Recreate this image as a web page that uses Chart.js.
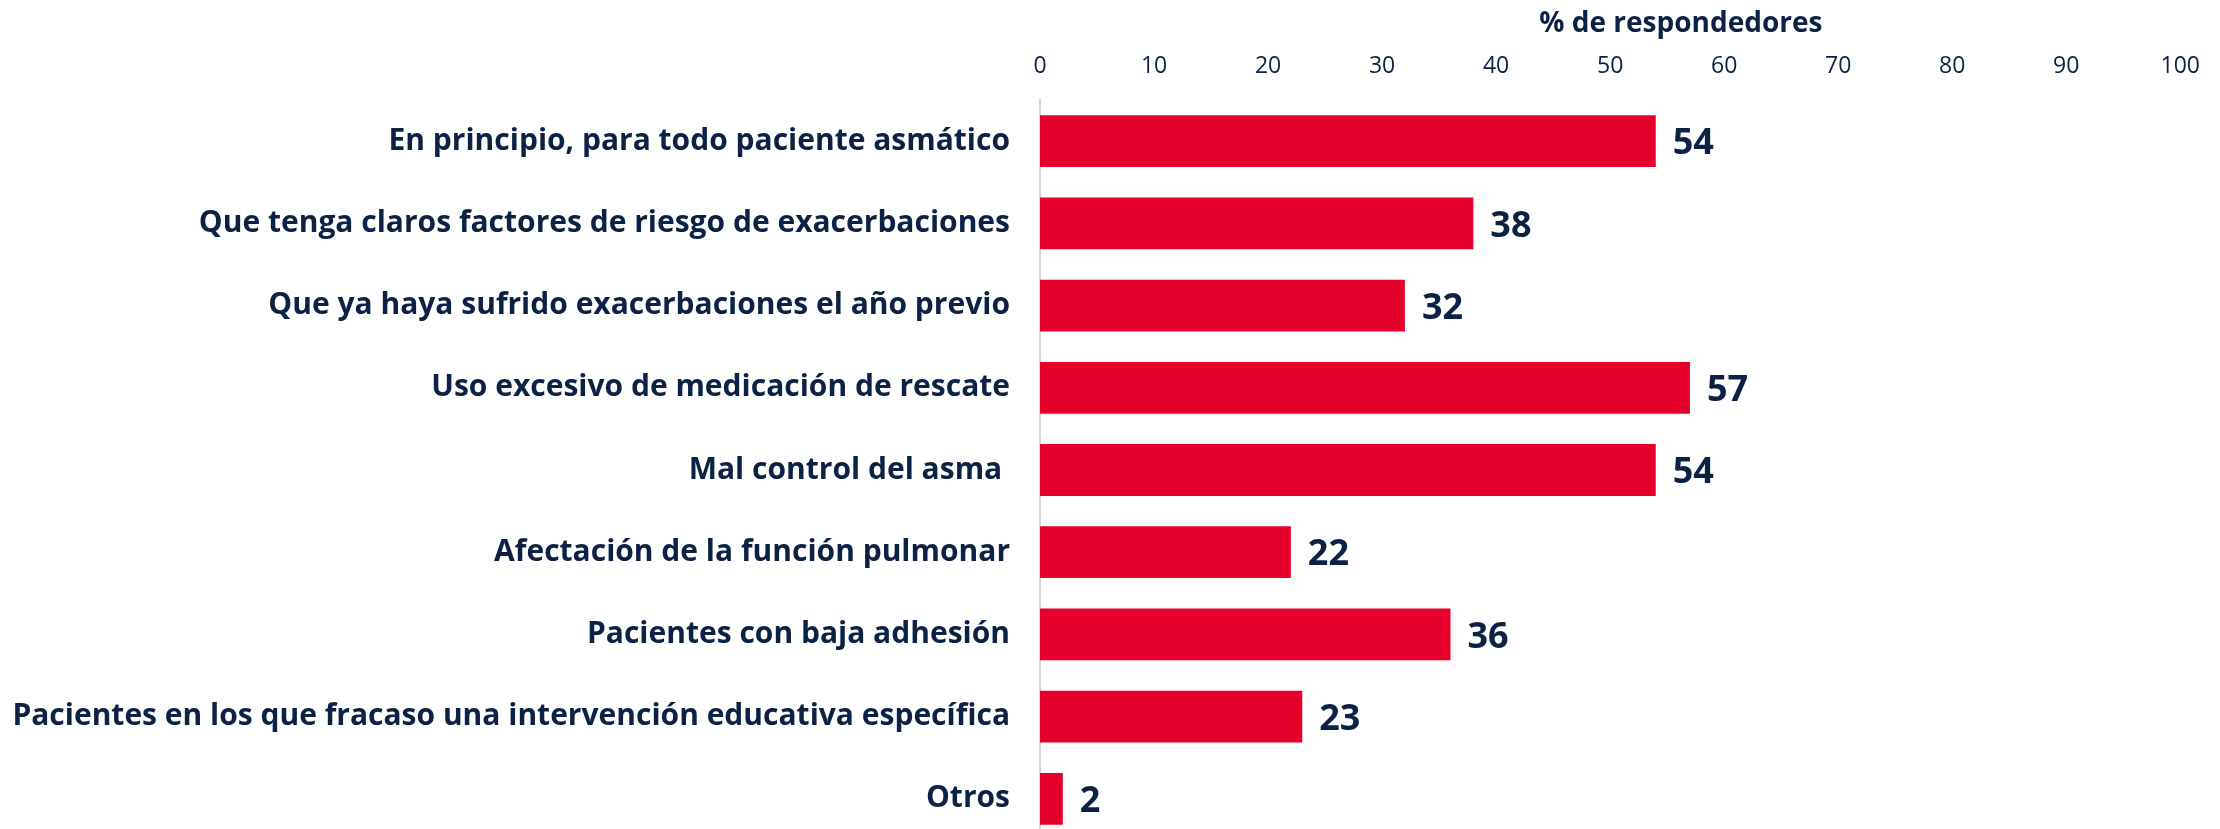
<!DOCTYPE html>
<html>
<head>
<meta charset="utf-8">
<script src="https://cdn.jsdelivr.net/npm/chart.js@4"></script>
<style>
  html, body { margin: 0; padding: 0; background: #fff; overflow: hidden; height: 829px; }
  canvas { display: block; }
</style>
</head>
<body>
<!-- el lienzo es algo más alto que la ventana: la última fila queda recortada como en el original -->
<canvas id="chart" width="2220" height="840"></canvas>
<script>
const categories = [
  'En principio, para todo paciente asmático',
  'Que tenga claros factores de riesgo de exacerbaciones',
  'Que ya haya sufrido exacerbaciones el año previo',
  'Uso excesivo de medicación de rescate',
  'Mal control del asma ',
  'Afectación de la función pulmonar',
  'Pacientes con baja adhesión',
  'Pacientes en los que fracaso una intervención educativa específica',
  'Otros'
];
const values = [54, 38, 32, 57, 54, 22, 36, 23, 2];
const axisTitle = '% de respondedores';
const xMin = 0, xMax = 100, xStep = 10;

const navy = '#0b2245';
const red = '#e4002b';
const fontFamily = '"Open Sans", Lato, sans-serif';

// etiquetas de valor a la derecha de cada barra
const valueLabels = {
  id: 'valueLabels',
  afterDatasetsDraw(chart) {
    const ctx = chart.ctx;
    const meta = chart.getDatasetMeta(0);
    ctx.save();
    ctx.fillStyle = navy;
    ctx.font = 'bold 36px ' + fontFamily;
    ctx.textAlign = 'left';
    ctx.textBaseline = 'middle';
    meta.data.forEach((bar, i) => {
      ctx.fillText(String(values[i]), bar.x + 17, bar.y + 3);
    });
    ctx.restore();
  }
};

// título del eje, un poco a la derecha del centro
const axisTitlePlugin = {
  id: 'axisTitlePlugin',
  afterDraw(chart) {
    const ctx = chart.ctx;
    const x = chart.scales.x;
    ctx.save();
    ctx.fillStyle = navy;
    ctx.font = 'bold 28px ' + fontFamily;
    ctx.textAlign = 'center';
    ctx.textBaseline = 'middle';
    ctx.fillText(axisTitle, x.getPixelForValue(56.2), 24);
    ctx.restore();
  }
};

new Chart(document.getElementById('chart'), {
  type: 'bar',
  data: {
    labels: categories,
    datasets: [{
      data: values,
      backgroundColor: red,
      borderWidth: 0,
      barPercentage: 0.63,
      categoryPercentage: 1
    }]
  },
  options: {
    indexAxis: 'y',
    responsive: false,
    animation: false,
    layout: { padding: { top: 0, right: 22, bottom: 0, left: 0 } },
    plugins: {
      legend: { display: false },
      tooltip: { enabled: false }
    },
    scales: {
      x: {
        position: 'top',
        min: xMin,
        max: xMax,
        ticks: {
          stepSize: xStep,
          color: navy,
          font: { family: fontFamily, size: 23 },
          padding: 20
        },
        grid: { display: false, drawTicks: false },
        border: { display: false },
        afterFit(scale) { scale.height = 100; }
      },
      y: {
        ticks: {
          color: navy,
          font: { family: fontFamily, size: 30, weight: 'bold' },
          padding: 30
        },
        grid: { display: false, drawTicks: false },
        border: { display: true, color: '#d6d6d6', width: 2 },
        afterFit(scale) {
          scale.width = 1040;
          scale.paddingTop = 0;
          scale.paddingBottom = 0;
        }
      }
    }
  },
  plugins: [valueLabels, axisTitlePlugin]
});
</script>
</body>
</html>
